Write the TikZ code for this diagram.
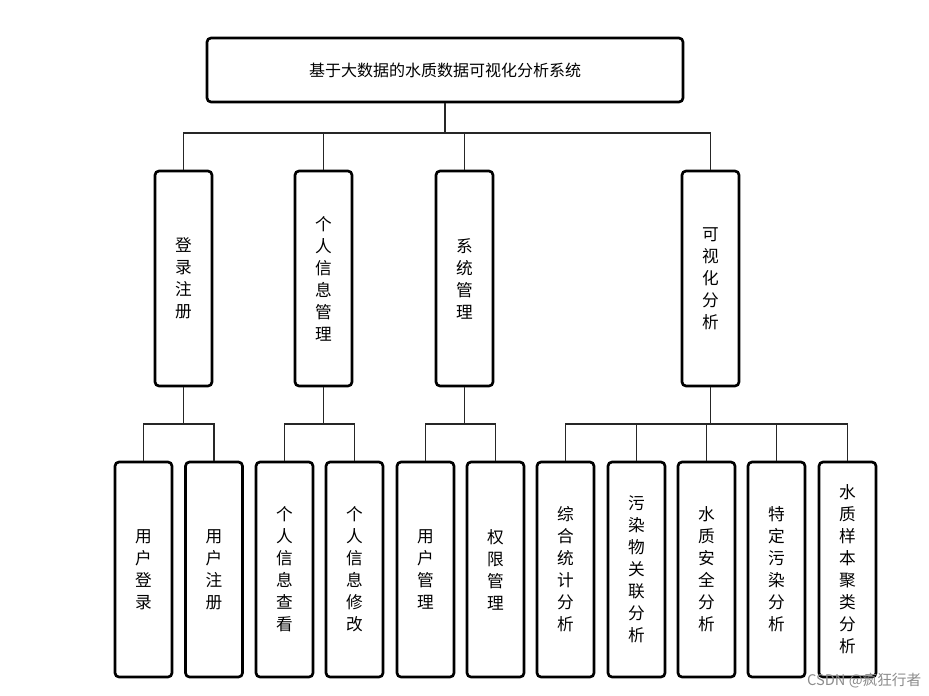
\documentclass[tikz,border=0pt]{standalone}
\usepackage{fontspec}
\newfontfamily\cjk{Noto Sans CJK SC}
\begin{document}
\begin{tikzpicture}[x=0.75pt,y=-0.75pt,
  box/.style={draw=black,line width=2pt,rounded corners=3pt,fill=white,minimum width=42.75pt,minimum height=161.25pt,inner sep=0pt},
  vt/.style={font=\cjk\fontsize{12.5}{16.5}\selectfont,align=center,text width=14pt},
  ln/.style={line width=1.3pt,draw=black!85}]
\useasboundingbox (0,0) rectangle (929,696);
\node[draw=black,line width=2pt,rounded corners=3pt,minimum width=357pt,minimum height=48pt,font=\cjk\fontsize{12}{14}\selectfont] (root) at (445,70) {基于大数据的水质数据可视化分析系统};
\foreach \n/\x/\t in {a/183.5/登\\录\\注\\册, b/323.5/个\\人\\信\\息\\管\\理, c/464.5/系\\统\\管\\理, d/710.5/可\\视\\化\\分\\析}{
  \node[box] (\n) at (\x,278.5) {};
  \node[vt] at (\x,278.5) {\t};
}
\foreach \n/\x/\t in {a1/143.5/用\\户\\登\\录, a2/214/用\\户\\注\\册, b1/284.5/个\\人\\信\\息\\查\\看, b2/354.5/个\\人\\信\\息\\修\\改, c1/425.5/用\\户\\管\\理, c2/495.5/权\\限\\管\\理, d1/565.5/综\\合\\统\\计\\分\\析, d2/636.5/污\\染\\物\\关\\联\\分\\析, d3/706.5/水\\质\\安\\全\\分\\析, d4/776.5/特\\定\\污\\染\\分\\析, d5/847.5/水\\质\\样\\本\\聚\\类\\分\\析}{
  \node[box] (\n) at (\x,569.5) {};
  \node[vt] at (\x,569.5) {\t};
}
\coordinate (bus1) at (0,133);
\draw[ln] (root.south) -- (root.south |- bus1);
\draw[ln] (a.north) |- (d.north |- bus1) -- (d.north);
\draw[ln] (b.north) -- (b.north |- bus1);
\draw[ln] (c.north) -- (c.north |- bus1);
\coordinate (bus2) at (0,424);
\foreach \p/\l/\r in {a/a1/a2, b/b1/b2, c/c1/c2}{
  \draw[ln] (\p.south) -- (\p.south |- bus2);
  \draw[ln] (\l.north) |- (\r.north |- bus2) -- (\r.north);
}
\draw[ln] (d.south) -- (d.south |- bus2);
\draw[ln] (d1.north) |- (d5.north |- bus2) -- (d5.north);
\foreach \n in {d2,d3,d4}{\draw[ln] (\n.north) -- (\n.north |- bus2);}
\node[font=\cjk\fontsize{11}{13}\selectfont,text=black!45,anchor=east] (wm) at (926,681) {CSDN @疯狂行者};
\end{tikzpicture}
\end{document}
